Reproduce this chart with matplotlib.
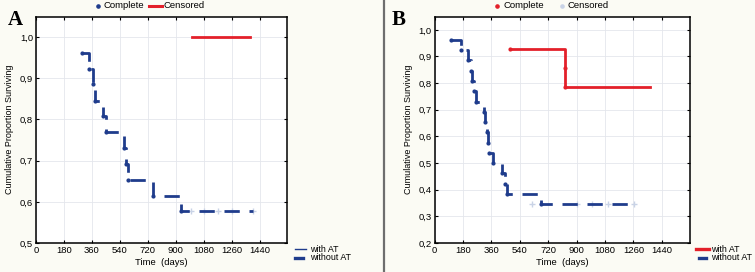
import matplotlib
matplotlib.use("Agg")
import matplotlib.pyplot as plt
from matplotlib.lines import Line2D

BG = "#FBFBF4"
BLUE = "#1F3C8C"
RED = "#E3202A"
PALE = "#C9D3E6"
GRID = "#E4E6EC"

plt.rcParams["font.family"] = ["Liberation Sans", "DejaVu Sans"]

# Panel A: survival estimates
a_blue_t = [295, 343, 368, 380, 430, 450, 567, 580, 593, 754, 930]
a_blue_s = [0.962, 0.923, 0.885, 0.846, 0.808, 0.769, 0.731, 0.692, 0.654, 0.615, 0.577]
a_blue_end = 1395
a_blue_cens = [1000, 1080, 1170, 1260, 1395]
a_red_t = [1005]
a_red_s = [1.0]
a_red_end = 1380

# Panel B
b_blue_t = [105, 165, 215, 230, 238, 250, 262, 312, 322, 332, 340, 347, 368, 430, 445, 456, 673]
b_blue_s = [0.962, 0.923, 0.885, 0.846, 0.808, 0.769, 0.731, 0.692, 0.654, 0.615,
            0.577, 0.538, 0.500, 0.462, 0.423, 0.385, 0.346]
b_blue_end = 1265
b_blue_cens = [620, 900, 1000, 1100, 1265]
b_red_t = [478, 826, 829]
b_red_s = [0.929, 0.857, 0.786]
b_red_end = 1363

x_ticks = [0, 180, 360, 540, 720, 900, 1080, 1260, 1440]


def draw_km(ax, t, s, end, color, dashed, dots=True):
    xs = list(t) + [end]
    ys = list(s) + [s[-1]]
    if dashed:
        ax.step(xs, ys, where="post", color=color, lw=2.0, dashes=(5.5, 3.5), zorder=3)
    else:
        ax.step(xs, ys, where="post", color=color, lw=2.0, zorder=3)
    if dots:
        ax.plot(t, s, "o", color=color, ms=2.0, zorder=4)


def style_axes(ax, ylo, yticks):
    ax.set_facecolor("white")
    ax.set_xlim(0, 1615)
    ax.set_ylim(ylo, 1.05)
    ax.set_xticks(x_ticks)
    ax.set_xticklabels([str(v) for v in x_ticks], fontsize=6.8)
    ax.set_yticks(yticks)
    ax.set_yticklabels([f"{v:.1f}".replace(".", ",") for v in yticks], fontsize=6.8)
    ax.tick_params(direction="in", length=2.5, width=0.8, top=True, right=True, pad=2)
    ax.grid(True, color=GRID, lw=0.6, zorder=0)
    ax.set_axisbelow(True)
    for sp in ax.spines.values():
        sp.set_linewidth(1.1)
        sp.set_color("black")
    ax.set_xlabel("Time  (days)", fontsize=6.8, labelpad=2)
    ax.set_ylabel("Cumulative Proportion Surviving", fontsize=6.5, labelpad=4)


fig = plt.figure(figsize=(7.55, 2.72), dpi=100)
fig.patch.set_facecolor(BG)

H = 272.0
W = 755.0
bottom = 1 - 243 / H
height = (243 - 16.5) / H
ax_a = fig.add_axes([36 / W, bottom, 251 / W, height])
ax_b = fig.add_axes([434.5 / W, bottom, 255 / W, height])

# panel A
draw_km(ax_a, a_blue_t, a_blue_s, a_blue_end, BLUE, dashed=True)
ax_a.plot(a_blue_cens, [a_blue_s[-1]] * len(a_blue_cens), "+", color=PALE, ms=4, mew=1, zorder=2)
draw_km(ax_a, a_red_t, a_red_s, a_red_end, RED, dashed=False, dots=False)
style_axes(ax_a, 0.5, [0.5, 0.6, 0.7, 0.8, 0.9, 1.0])

# panel B
draw_km(ax_b, b_blue_t, b_blue_s, b_blue_end, BLUE, dashed=True)
ax_b.plot(b_blue_cens, [b_blue_s[-1]] * len(b_blue_cens), "+", color=PALE, ms=4, mew=1, zorder=2)
draw_km(ax_b, b_red_t, b_red_s, b_red_end, RED, dashed=False)
style_axes(ax_b, 0.2, [0.2, 0.3, 0.4, 0.5, 0.6, 0.7, 0.8, 0.9, 1.0])

# separator between panels
fig.add_artist(Line2D([384 / W, 384 / W], [0, 1], transform=fig.transFigure, color="#6E6E6E", lw=1.6))

# panel letters
fig.text(8 / W, 1 - 25 / H, "A", fontsize=15, fontweight="bold", family=["Liberation Serif", "DejaVu Serif"])
fig.text(392 / W, 1 - 25 / H, "B", fontsize=15, fontweight="bold", family=["Liberation Serif", "DejaVu Serif"])

# top legends
ty = 1 - 6 / H
fig.add_artist(Line2D([98 / W], [ty], marker="o", ms=2.3, color=BLUE, transform=fig.transFigure))
fig.text(104 / W, ty, "Complete", fontsize=6.8, va="center")
fig.add_artist(Line2D([149 / W, 162 / W], [ty, ty], color=RED, lw=2.2, transform=fig.transFigure))
fig.text(163 / W, ty, "Censored", fontsize=6.8, va="center")

fig.add_artist(Line2D([497 / W], [ty], marker="o", ms=2.3, color=RED, transform=fig.transFigure))
fig.text(503 / W, ty, "Complete", fontsize=6.8, va="center")
fig.add_artist(Line2D([562 / W], [ty], marker="o", ms=2.3, color=PALE, transform=fig.transFigure))
fig.text(568 / W, ty, "Censored", fontsize=6.8, va="center")

# bottom-right legends
y1 = 1 - 249 / H
y2 = 1 - 258 / H
fig.add_artist(Line2D([295 / W, 306 / W], [y1, y1], color=BLUE, lw=1.0, transform=fig.transFigure))
fig.text(310 / W, y1, "with AT", fontsize=6.4, va="center")
fig.add_artist(Line2D([295 / W, 303 / W], [y2, y2], color=BLUE, lw=2.4, transform=fig.transFigure))
fig.text(310 / W, y2, "without AT", fontsize=6.4, va="center")

fig.add_artist(Line2D([696 / W, 709 / W], [y1, y1], color=RED, lw=2.4, transform=fig.transFigure))
fig.text(711 / W, y1, "with AT", fontsize=6.4, va="center")
fig.add_artist(Line2D([699 / W, 706 / W], [y2, y2], color=BLUE, lw=2.4, transform=fig.transFigure))
fig.text(711 / W, y2, "without AT", fontsize=6.4, va="center")

fig.savefig("out.png", dpi=100, facecolor=BG)
